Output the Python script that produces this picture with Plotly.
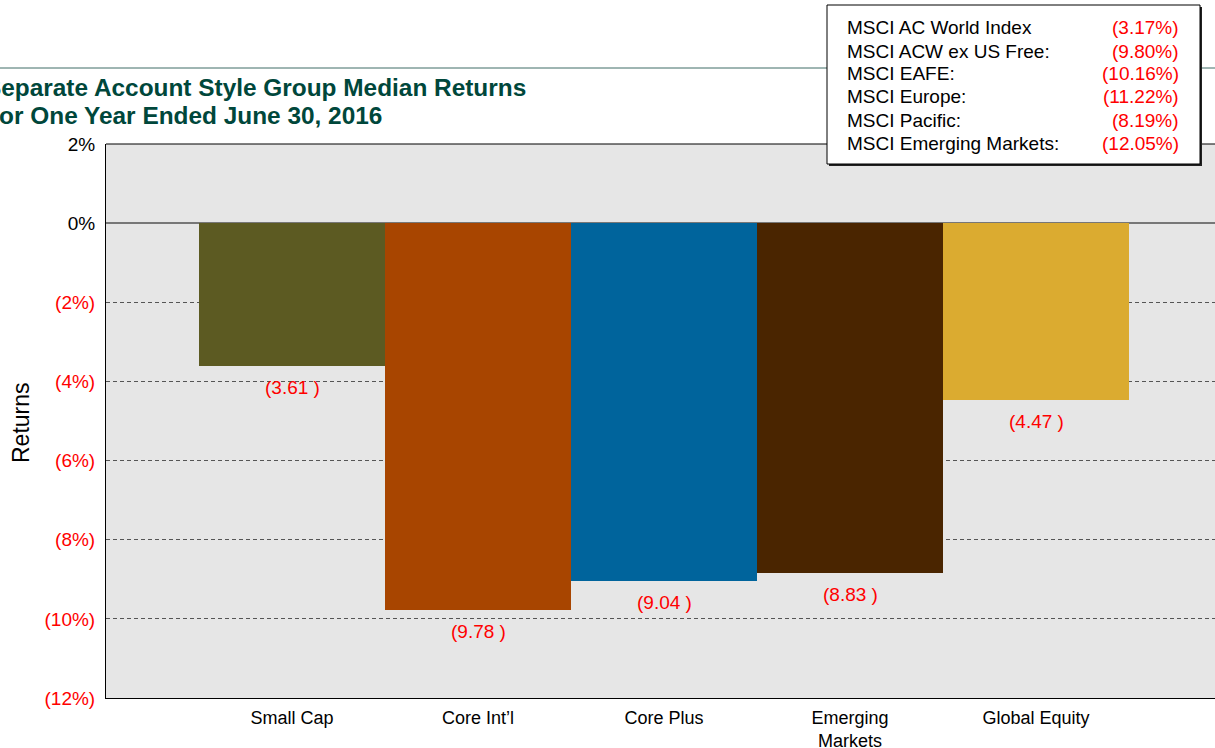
import plotly.graph_objects as go

categories = ["Small Cap", "Core Int\u2019l", "Core Plus", "Emerging<br>Markets", "Global Equity"]
returns = [-3.61, -9.78, -9.04, -8.83, -4.47]
bar_labels = ["(3.61 )", "(9.78 )", "(9.04 )", "(8.83 )", "(4.47 )"]
bar_colors = ["#5C5A22", "#A84500", "#00649C", "#4A2500", "#DBAB30"]

tick_vals = [2, 0, -2, -4, -6, -8, -10, -12]
tick_text = ["2%", "0%", "(2%)", "(4%)", "(6%)", "(8%)", "(10%)", "(12%)"]

index_names = ["MSCI AC World Index", "MSCI ACW ex US Free:", "MSCI EAFE:",
               "MSCI Europe:", "MSCI Pacific:", "MSCI Emerging Markets:"]
index_values = ["(3.17%)", "(9.80%)", "(10.16%)", "(11.22%)", "(8.19%)", "(12.05%)"]

title_lines = ["Separate Account Style Group Median Returns",
               "for One Year Ended June 30, 2016"]

FONT = "Liberation Sans, Arial, sans-serif"
# figure slightly wider than the window so the plot area runs off the right edge
W, H = 1227, 748
ML, MT, MB, MR = 106, 144, 50, 0
PW, PH = W - ML - MR, H - MT - MB
CAT_PX = 186.0

def px(x):  # page pixel -> paper x
    return (x - ML) / PW

def py(y):  # page pixel -> paper y
    return (H - MB - y) / PH

fig = go.Figure()
fig.add_trace(go.Bar(
    x=list(range(len(categories))), y=returns, width=1.0,
    marker=dict(color=bar_colors, line=dict(width=0)),
    showlegend=False, hoverinfo="skip",
))

annotations = []
for i, (v, lab) in enumerate(zip(returns, bar_labels)):
    annotations.append(dict(x=i, y=v, xref="x", yref="y", text=lab, showarrow=False,
                            yanchor="top", xanchor="center", yshift=-9,
                            font=dict(family=FONT, size=19, color="#FF0000")))

# Title
annotations.append(dict(x=px(-17), y=py(88), xref="paper", yref="paper", text="<b>" + title_lines[0] + "</b>",
                        showarrow=False, xanchor="left", yanchor="middle",
                        font=dict(family=FONT, size=24.4, color="#00473B")))
annotations.append(dict(x=px(-11), y=py(116), xref="paper", yref="paper", text="<b>" + title_lines[1] + "</b>",
                        showarrow=False, xanchor="left", yanchor="middle",
                        font=dict(family=FONT, size=24.4, color="#00473B")))

# Y axis title
annotations.append(dict(x=px(21), y=py(423), xref="paper", yref="paper", text="Returns",
                        showarrow=False, textangle=-90, xanchor="center", yanchor="middle",
                        font=dict(family=FONT, size=23, color="#000000")))

# Index box text
row_y = [28, 51, 74, 97, 120, 143]
for name, val, ry in zip(index_names, index_values, row_y):
    annotations.append(dict(x=px(845), y=py(ry), xref="paper", yref="paper", text=name,
                            showarrow=False, xanchor="left", yanchor="middle",
                            font=dict(family=FONT, size=19, color="#000000")))
    annotations.append(dict(x=px(1181), y=py(ry), xref="paper", yref="paper", text=val,
                            showarrow=False, xanchor="right", yanchor="middle",
                            font=dict(family=FONT, size=19, color="#FF0000")))

shapes = [
    # top border of the plot area
    dict(type="line", xref="paper", yref="paper", x0=0, x1=1, y0=1, y1=1,
         line=dict(color="#000000", width=1), layer="above"),
    dict(type="line", xref="paper", yref="paper", x0=px(0), x1=px(W), y0=py(68), y1=py(68),
         line=dict(color="#3F6C66", width=1), layer="above"),
    dict(type="rect", xref="paper", yref="paper", x0=px(829), x1=px(1202), y0=py(7), y1=py(166),
         fillcolor="#222222", line=dict(width=0), layer="above"),
    dict(type="rect", xref="paper", yref="paper", x0=px(827), x1=px(1200), y0=py(5), y1=py(164),
         fillcolor="#FFFFFF", line=dict(color="#000000", width=1), layer="above"),
]

ytick_text = [t if v >= 0 else '<span style="color:#FF0000">' + t + "</span>" for v, t in zip(tick_vals, tick_text)]

fig.update_layout(
    template="none",
    width=W, height=H,
    margin=dict(l=ML, r=MR, t=MT, b=MB, pad=0, autoexpand=False),
    paper_bgcolor="#FFFFFF", plot_bgcolor="#E6E6E6",
    bargap=0,
    font=dict(family=FONT, size=19, color="#000000"),
    xaxis=dict(range=[-1, -1 + PW / CAT_PX], tickvals=list(range(len(categories))), ticktext=categories,
               showgrid=False, zeroline=False, showline=True, linecolor="#000000", linewidth=1,
               mirror=False, ticks="", tickfont=dict(family=FONT, size=18, color="#000000"),
               ticklabelstandoff=3, automargin=False),
    yaxis=dict(range=[-12, 2], tickvals=tick_vals, ticktext=ytick_text,
               showgrid=True, gridcolor="#555555", gridwidth=1, griddash="4px,3px",
               zeroline=True, zerolinecolor="#777777", zerolinewidth=2,
               showline=True, linecolor="#000000", linewidth=1, ticks="", mirror=False,
               tickfont=dict(family=FONT, size=19, color="#000000"), ticklabelstandoff=6,
               automargin=False),
    annotations=annotations,
    shapes=shapes,
)

fig.write_html("out.html", config={"displayModeBar": False, "staticPlot": True},
               post_script="document.body.style.margin='0';document.body.style.overflow='hidden';")
